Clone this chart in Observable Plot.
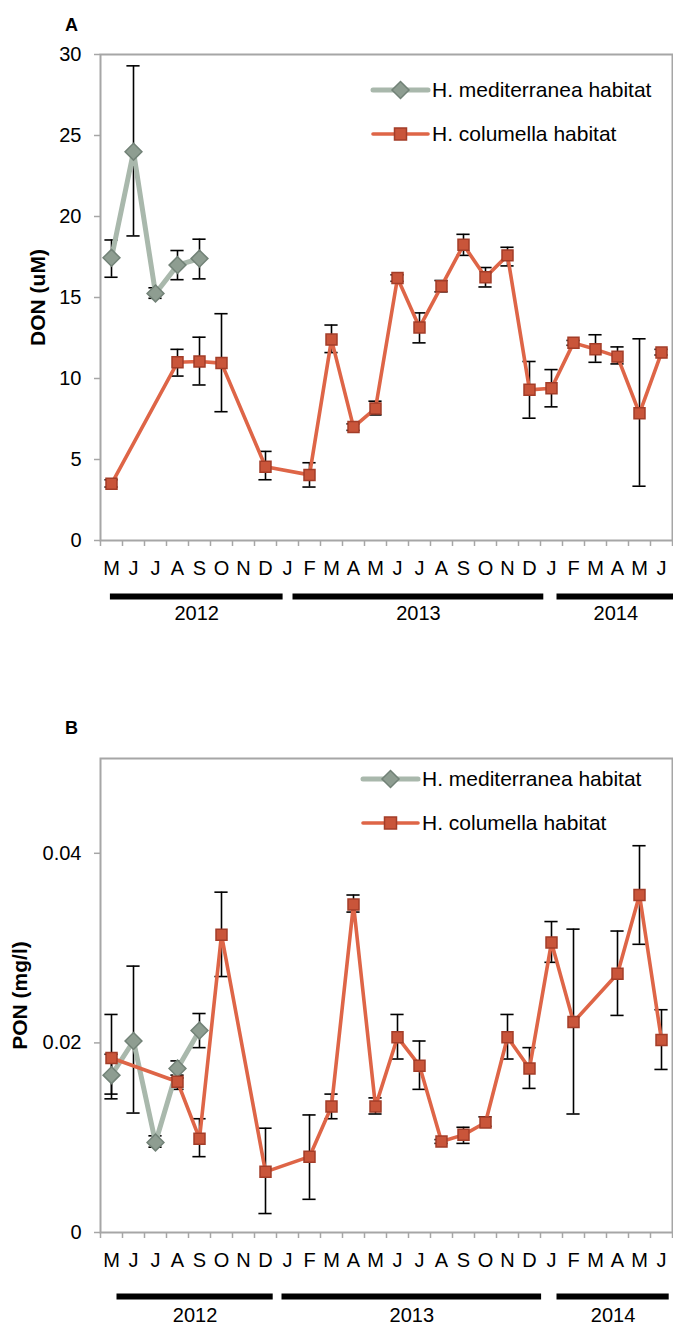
<!DOCTYPE html>
<html>
<head>
<meta charset="utf-8">
<script src="https://cdn.jsdelivr.net/npm/d3@7"></script>
<script src="https://cdn.jsdelivr.net/npm/@observablehq/plot@0.6"></script>
<style>
  body { margin: 0; background: #fff; }
  #chart { position: relative; width: 673px; }
  .panel { position: relative; width: 673px; }
  .legend { position: absolute; left: 0; top: 0; pointer-events: none; overflow: visible; }
</style>
</head>
<body>
<div id="chart"></div>
<script>
// Monthly sampling, May 2012 – June 2014
const months = ["M","J","J","A","S","O","N","D","J","F","M","A","M","J","J","A","S","O","N","D","J","F","M","A","M","J"];
const seriesNames = ["H. mediterranea habitat", "H. columella habitat"];

// Panel A — dissolved organic nitrogen (uM): mean, lower and upper error
const medDON   = [17.45, 24.0, 15.25, 17.0, 17.4, null, null, null, null, null, null, null, null, null, null, null, null, null, null, null, null, null, null, null, null, null];
const medDONlo = [16.25, 18.8, 14.95, 16.1, 16.15, null, null, null, null, null, null, null, null, null, null, null, null, null, null, null, null, null, null, null, null, null];
const medDONhi = [18.55, 29.3, 15.6, 17.9, 18.6, null, null, null, null, null, null, null, null, null, null, null, null, null, null, null, null, null, null, null, null, null];
const colDON   = [3.5, null, null, 11.0, 11.05, 10.95, null, 4.55, null, 4.05, 12.4, 7.0, 8.15, 16.2, 13.15, 15.7, 18.25, 16.25, 17.6, 9.3, 9.4, 12.2, 11.8, 11.35, 7.85, 11.6];
const colDONlo = [3.3, null, null, 10.15, 9.6, 7.95, null, 3.75, null, 3.3, 11.6, 6.8, 7.75, 16.0, 12.2, 15.35, 17.6, 15.65, 16.95, 7.55, 8.25, 12.05, 11.0, 10.9, 3.35, 11.45];
const colDONhi = [3.75, null, null, 11.8, 12.55, 14.0, null, 5.5, null, 4.8, 13.3, 7.2, 8.6, 16.4, 14.05, 16.05, 18.9, 16.85, 18.1, 11.05, 10.55, 12.35, 12.7, 11.95, 12.45, 11.8];

// Panel B — particulate organic nitrogen (mg/l)
const medPON   = [0.0166, 0.0202, 0.0095, 0.0173, 0.0213, null, null, null, null, null, null, null, null, null, null, null, null, null, null, null, null, null, null, null, null, null];
const medPONlo = [0.0146, 0.0126, 0.0090, 0.0163, 0.0195, null, null, null, null, null, null, null, null, null, null, null, null, null, null, null, null, null, null, null, null, null];
const medPONhi = [0.0188, 0.0281, 0.0102, 0.0181, 0.0231, null, null, null, null, null, null, null, null, null, null, null, null, null, null, null, null, null, null, null, null, null];
const colPON   = [0.0184, null, null, 0.0159, 0.0099, 0.0314, null, 0.0064, null, 0.0080, 0.0133, 0.0346, 0.0133, 0.0206, 0.0176, 0.0096, 0.0103, 0.0116, 0.0206, 0.0173, 0.0306, 0.0222, null, 0.0273, 0.0356, 0.0203];
const colPONlo = [0.0141, null, null, 0.0151, 0.0080, 0.0270, null, 0.0020, null, 0.0035, 0.0120, 0.0338, 0.0125, 0.0183, 0.0151, 0.0094, 0.0094, 0.0112, 0.0183, 0.0152, 0.0285, 0.0125, null, 0.0229, 0.0304, 0.0172];
const colPONhi = [0.0230, null, null, 0.0166, 0.0120, 0.0359, null, 0.0110, null, 0.0124, 0.0146, 0.0356, 0.0142, 0.0230, 0.0202, 0.0098, 0.0111, 0.0122, 0.0230, 0.0195, 0.0328, 0.0320, null, 0.0318, 0.0408, 0.0235];

// Year groupings under the month axis (month-index spans)
const yearLabels = ["2012", "2013", "2014"];
const yearStartA = [0.45, 8.75, 20.75], yearEndA = [8.3, 20.15, 26.1];
const yearStartB = [0.75, 8.25, 20.75], yearEndB = [7.85, 20.05, 25.85];

const yTicksA = [0, 5, 10, 15, 20, 25, 30];
const yTicksB = [0, 0.02, 0.04];

const FONT = "'Liberation Sans', Arial, Helvetica, sans-serif";
const AXIS = "#a6a6a6";
const GREY_LINE = "#a9b8ac", GREY_FILL = "#8e9d91", GREY_EDGE = "#728277";
const RED_LINE = "#de6547", RED_FILL = "#c9553a", RED_EDGE = "#a33d28";

function present(vals) { return d3.range(vals.length).filter(i => vals[i] != null); }

function seriesMarks(vals, line, fill, edge, symbol, r, lineWidth) {
  const idx = present(vals);
  return [
    Plot.line(idx, {x: i => i + 0.5, y: i => vals[i], stroke: line, strokeWidth: lineWidth, strokeLinejoin: "round", strokeLinecap: "round"}),
    Plot.dot(idx, {x: i => i + 0.5, y: i => vals[i], symbol, r, fill, stroke: edge, strokeWidth: 1.5})
  ];
}

function errorMarks(vals, lo, hi) {
  const idx = present(vals).filter(i => lo[i] != null);
  const cap = 0.3;
  return [
    Plot.ruleX(idx, {x: i => i + 0.5, y1: i => lo[i], y2: i => hi[i], stroke: "#000", strokeWidth: 1.6}),
    Plot.ruleY(idx, {x1: i => i + 0.5 - cap, x2: i => i + 0.5 + cap, y: i => lo[i], stroke: "#000", strokeWidth: 1.6}),
    Plot.ruleY(idx, {x1: i => i + 0.5 - cap, x2: i => i + 0.5 + cap, y: i => hi[i], stroke: "#000", strokeWidth: 1.6})
  ];
}

function panel(cfg) {
  const years = yearLabels.map((label, k) => ({label, start: cfg.yearStart[k], end: cfg.yearEnd[k]}));
  const chart = Plot.plot({
    width: 673,
    height: cfg.height,
    marginTop: cfg.marginTop,
    marginBottom: cfg.marginBottom,
    marginLeft: 100,
    marginRight: 1,
    x: {domain: [0, months.length], axis: null},
    y: {domain: cfg.yDomain, axis: null},
    style: {fontFamily: FONT, fontSize: "20px", color: "#000", background: "#fff", overflow: "visible"},
    marks: [
      Plot.frame({stroke: AXIS, strokeWidth: 2}),
      Plot.axisY({ticks: cfg.yTicks, tickSize: 6, tickPadding: 13, stroke: AXIS, strokeWidth: 1.5, fill: "#000",
        tickFormat: d => d === 0 ? "0" : String(d), label: null}),
      Plot.axisX({ticks: d3.range(months.length + 1), tickSize: 6, tickFormat: () => "", stroke: AXIS, strokeWidth: 1.5, label: null}),
      Plot.axisX({ticks: months.map((m, i) => i + 0.5), tickSize: 0, tickPadding: 20, fill: "#000",
        tickFormat: d => months[Math.floor(d)], label: null}),
      // year bars and labels
      Plot.ruleY(years, {x1: "start", x2: "end", y: () => cfg.yDomain[0], dy: cfg.yearBarDy, stroke: "#000", strokeWidth: 6}),
      Plot.text(years, {x: d => (d.start + d.end) / 2, frameAnchor: "bottom", dy: cfg.yearTextDy, text: "label", fontSize: 20, fill: "#000"}),
      // axis title and panel letter
      Plot.text([cfg.yLabel], {text: d => d, frameAnchor: "left", textAnchor: "middle", rotate: -90, dx: cfg.yLabelDx,
        fontWeight: "bold", fontSize: 21, fill: "#000"}),
      Plot.text([cfg.letter], {text: d => d, frameAnchor: "top-left", textAnchor: "middle", dx: -29, dy: cfg.letterDy,
        fontWeight: "bold", fontSize: 18, fill: "#000"}),
      ...errorMarks(cfg.med, cfg.medLo, cfg.medHi),
      ...errorMarks(cfg.col, cfg.colLo, cfg.colHi),
      ...seriesMarks(cfg.med, GREY_LINE, GREY_FILL, GREY_EDGE, "diamond2", 7.6, 5),
      ...seriesMarks(cfg.col, RED_LINE, RED_FILL, RED_EDGE, "square", 6.2, 3.6)
    ]
  });

  const wrap = document.createElement("div");
  wrap.className = "panel";
  wrap.appendChild(chart);

  // legend drawn over the upper right of the plot area
  const lg = d3.create("svg").attr("class", "legend").attr("width", 673).attr("height", cfg.height);
  const L = cfg.legend;
  const styles = [
    {line: GREY_LINE, w: 5, fill: GREY_FILL, edge: GREY_EDGE, shape: "diamond"},
    {line: RED_LINE, w: 3.6, fill: RED_FILL, edge: RED_EDGE, shape: "square"}
  ];
  seriesNames.forEach((name, k) => {
    const s = styles[k];
    const y = L.y0 + k * L.dy;
    const cx = (L.x1 + L.x2) / 2;
    lg.append("line").attr("x1", L.x1).attr("x2", L.x2).attr("y1", y).attr("y2", y)
      .attr("stroke", s.line).attr("stroke-width", s.w).attr("stroke-linecap", "round");
    if (s.shape === "diamond") {
      const h = 8.5;
      lg.append("path").attr("d", `M${cx},${y - h}L${cx + h},${y}L${cx},${y + h}L${cx - h},${y}Z`)
        .attr("fill", s.fill).attr("stroke", s.edge).attr("stroke-width", 1.5);
    } else {
      const h = 6;
      lg.append("rect").attr("x", cx - h).attr("y", y - h).attr("width", 2 * h).attr("height", 2 * h)
        .attr("fill", s.fill).attr("stroke", s.edge).attr("stroke-width", 1.5);
    }
    lg.append("text").attr("x", L.x2 + 4).attr("y", y).attr("dy", "0.35em")
      .attr("font-family", FONT).attr("font-size", 21).attr("fill", "#000").text(name);
  });
  wrap.appendChild(lg.node());
  return wrap;
}

const root = document.getElementById("chart");
root.appendChild(panel({
  letter: "A", letterDy: -36, yLabel: "DON (uM)", yLabelDx: -62,
  height: 650, marginTop: 54, marginBottom: 110,
  yDomain: [0, 30], yTicks: yTicksA,
  yearStart: yearStartA, yearEnd: yearEndA, yearBarDy: 56, yearTextDy: 79,
  med: medDON, medLo: medDONlo, medHi: medDONhi,
  col: colDON, colLo: colDONlo, colHi: colDONhi,
  legend: {x1: 373, x2: 428, y0: 90, dy: 44}
}));
root.appendChild(panel({
  letter: "B", letterDy: -37, yLabel: "PON (mg/l)", yLabelDx: -80,
  height: 685, marginTop: 108, marginBottom: 103,
  yDomain: [0, 0.05], yTicks: yTicksB,
  yearStart: yearStartB, yearEnd: yearEndB, yearBarDy: 64, yearTextDy: 89,
  med: medPON, medLo: medPONlo, medHi: medPONhi,
  col: colPON, colLo: colPONlo, colHi: colPONhi,
  legend: {x1: 363, x2: 418, y0: 129, dy: 44}
}));
</script>
</body>
</html>
